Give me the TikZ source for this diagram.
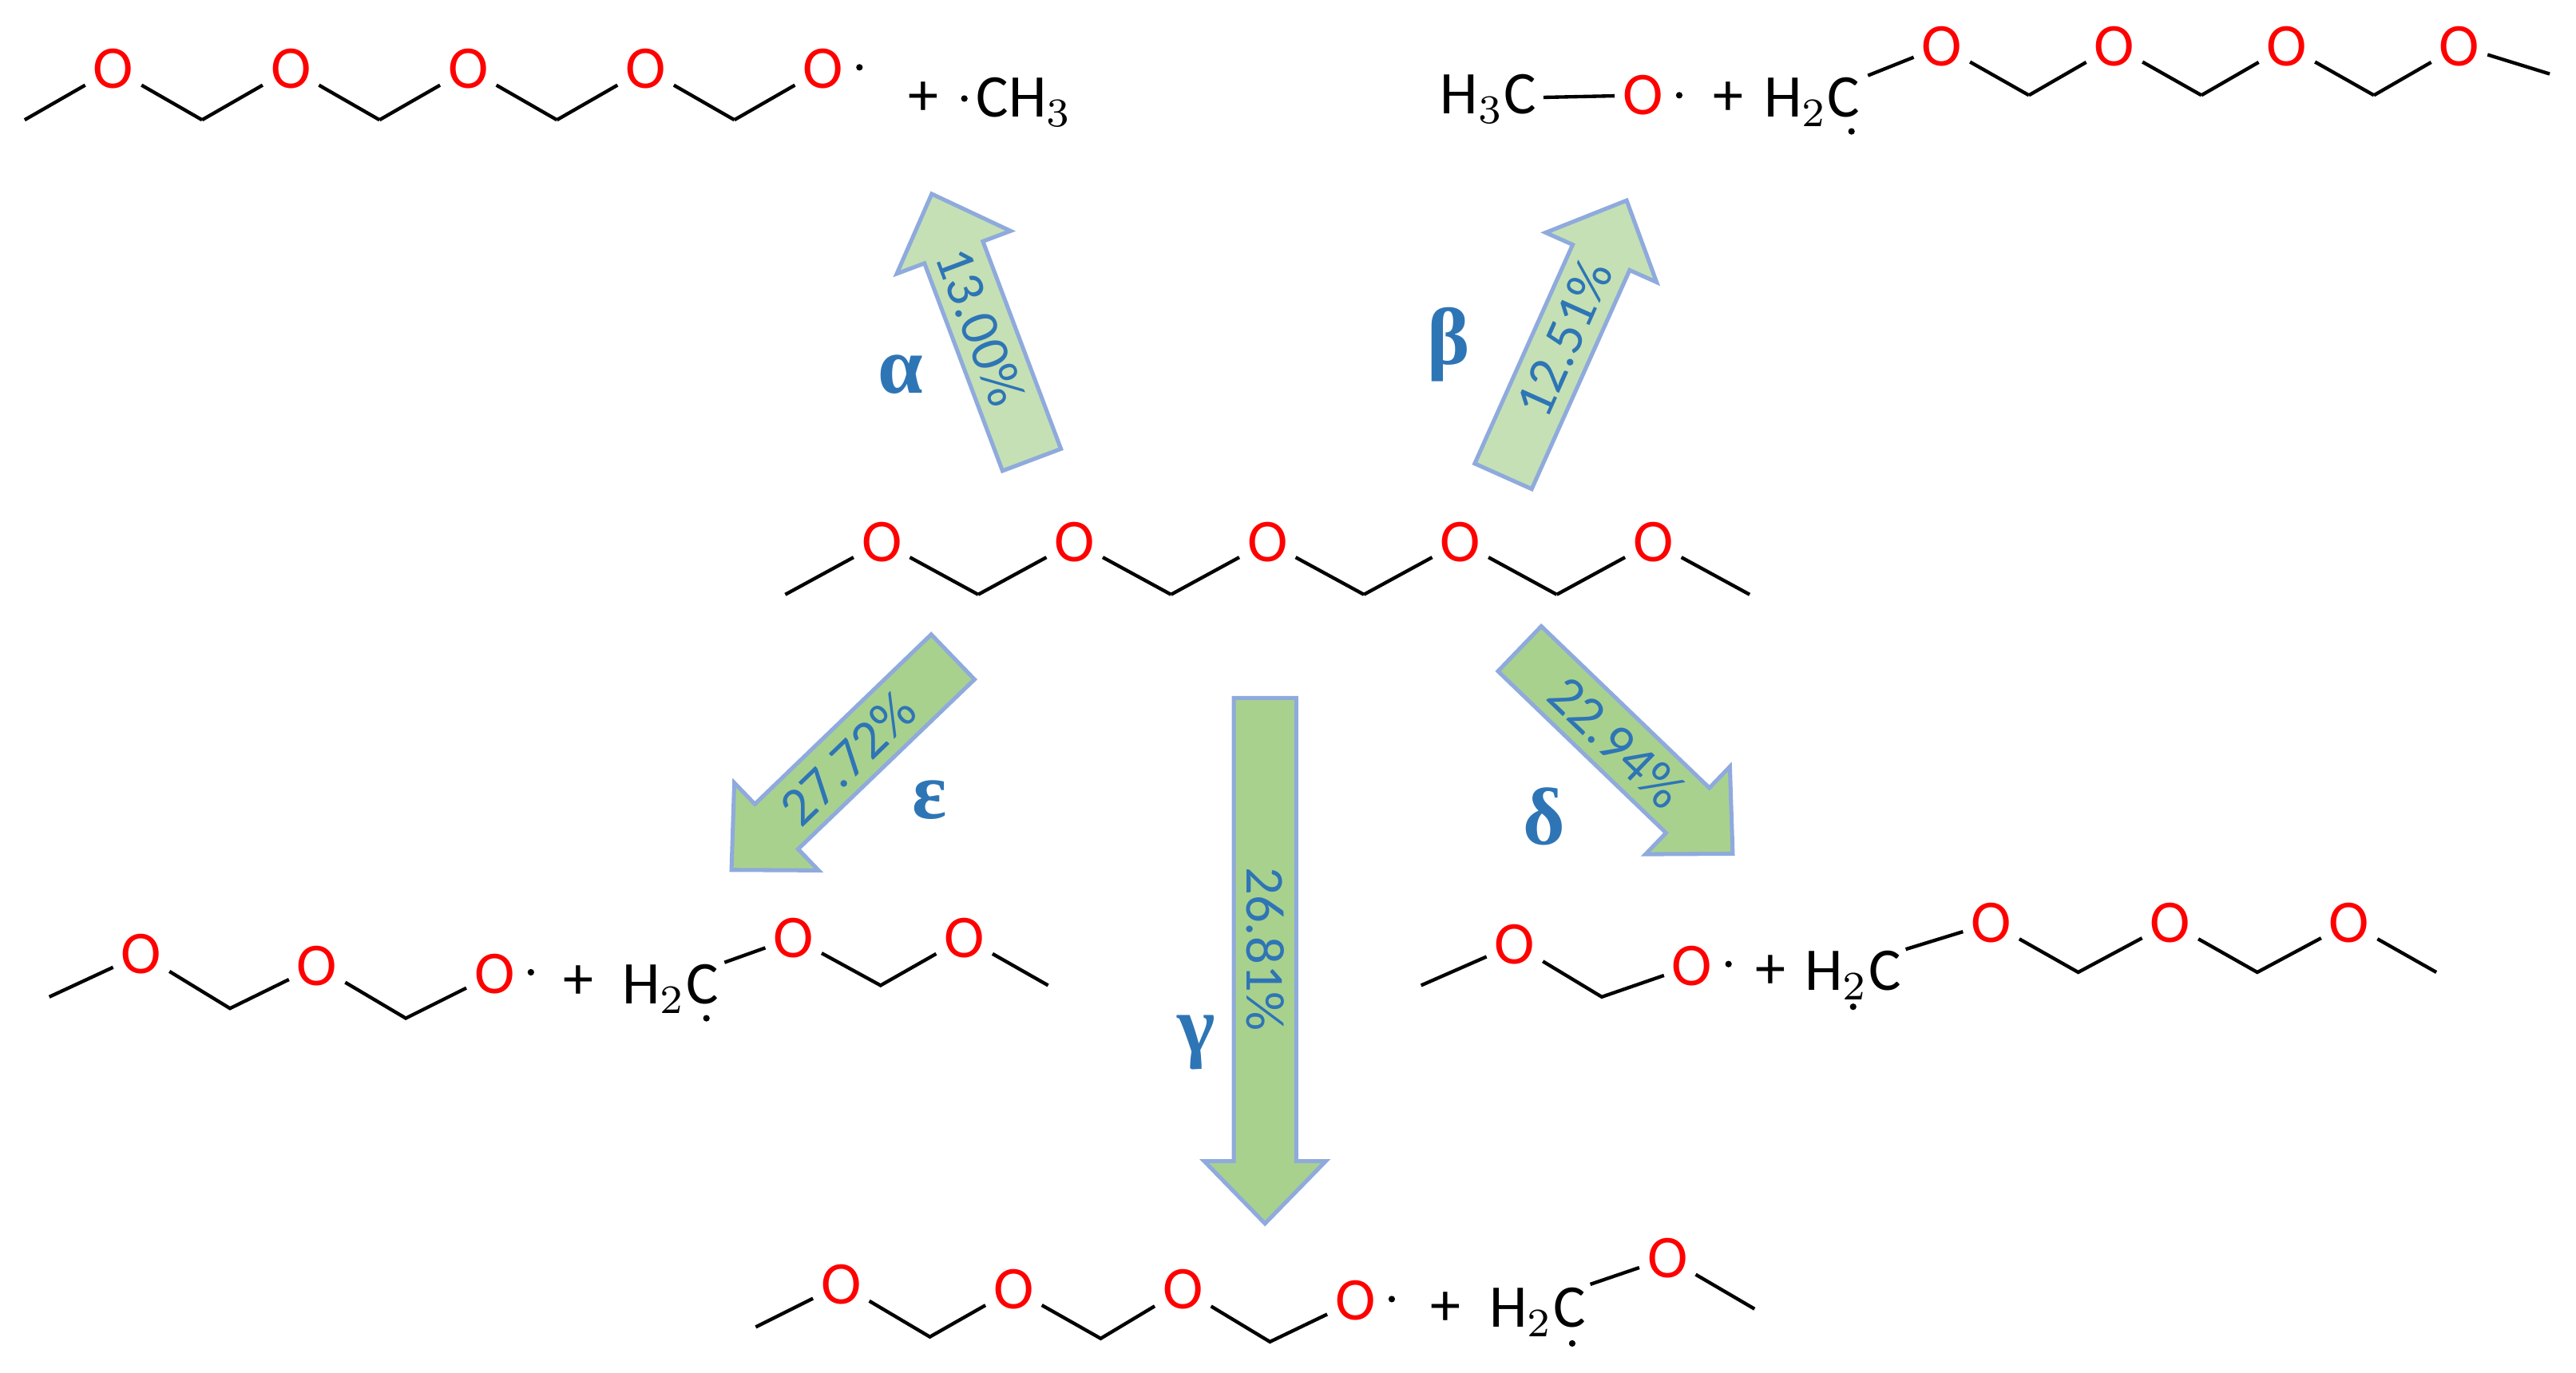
\documentclass[tikz,border=0pt]{standalone}
\usepackage{fontspec}
\setmainfont{Carlito}
\newfontfamily\grk{Liberation Serif}
\definecolor{ored}{HTML}{FF0000}
\definecolor{gl}{HTML}{C5E0B4}
\definecolor{gd}{HTML}{A9D18E}
\definecolor{ab}{HTML}{8FAADC}
\definecolor{lb}{HTML}{2E75B6}
\newcommand\fatarr[6]{% tail x, tail y, angle, length, colour, text
  \begin{scope}[shift={(#1,#2)},rotate=#3]
    \draw[draw=ab,line width=0.7pt,fill=#5] (0,-19)--(#4-38,-19)--(#4-38,-37)--(#4,0)--(#4-38,37)--(#4-38,19)--(0,19)--cycle;
  \end{scope}}
\begin{document}
\begin{tikzpicture}[x=0.01cm,y=-0.01cm,
  ox/.style={text=ored,inner sep=1.2pt,font=\fontsize{10.5}{12}\selectfont},
  tx/.style={inner sep=1pt,font=\fontsize{10.5}{12}\selectfont},
  bond/.style={line width=0.6pt},
  pct/.style={text=lb,font=\fontsize{9.5}{10}\selectfont},
  grl/.style={text=lb,font=\grk\bfseries\fontsize{14}{15}\selectfont}]
\useasboundingbox (0,0) rectangle (1568,836);

% ---- arrows
\fatarr{628}{280}{110.6}{173}{gl}{}
\node[pct,rotate=-69.4] (pA) at (597,199) {13.00\%};
\fatarr{915}{290}{65.9}{184}{gl}{}
\node[pct,rotate=65.9] (pB) at (952,206) {12.51\%};
\fatarr{580}{400}{223.9}{187}{gd}{}
\node[pct,rotate=43.9] (pE) at (516,462) {27.72\%};
\fatarr{770}{425}{270}{320}{gd}{}
\node[pct,rotate=-90] (pG) at (770,578) {26.81\%};
\fatarr{925}{395}{-43.9}{180}{gd}{}
\node[pct,rotate=-43.9] (pD) at (984,452) {22.94\%};

\node[grl] (lA) at (548,228) {α};
\node[grl] (lB) at (882,210) {β};
\node[grl] (lE) at (566,487) {ε};
\node[grl] (lG) at (728,635) {γ};
\node[grl] (lD) at (940,497) {δ};

% ---- centre molecule
\foreach \i in {0,...,5} \coordinate (mc\i) at ({478+117.4*\i},362);
\foreach \i in {1,...,5} \node[ox] (m\i) at ({478+117.4*\i-58.7},330) {O};
\foreach \i [evaluate=\i as \j using int(\i-1)] in {1,...,5} \draw[bond] (mc\j) -- (m\i) -- (mc\i);

% ---- top left (alpha)
\foreach \i in {0,...,4} \coordinate (ac\i) at ({15+108*\i},73);
\foreach \i in {1,...,4} \node[ox] (a\i) at ({15+108*\i-54},42) {O};
\node[ox] (a5) at (501,42) {O};
\fill (a5.east)++(5,-1) circle (2);
\foreach \i [evaluate=\i as \j using int(\i-1)] in {1,...,4} \draw[bond] (ac\j) -- (a\i) -- (ac\i);
\draw[bond] (ac4) -- (a5);
\node[tx] (ap) at (562,60) {+};
\node[tx,anchor=west] (ach) at (590,62) {CH$_3$};
\fill (587,60) circle (2);

% ---- top right (beta)
\node[tx] (bh) at (906,60) {H$_3$C};
\node[ox] (bo) at (1000,58) {O};
\fill (bo.east)++(5,0) circle (2);
\draw[bond] (bh) -- (bo);
\node[tx] (bp) at (1052,60) {+};
\node[tx] (bh2) at (1103,62) {H$_2$C};
\fill (1127,80) circle (2);
\coordinate (bc0) at (1137,46);
\foreach \i in {1,...,3} \coordinate (bc\i) at ({1130+105*\i},58);
\foreach \i in {1,...,4} \node[ox] (b\i) at ({1077+105*\i},28) {O};
\coordinate (bc4) at (1552,45);
\foreach \i [evaluate=\i as \j using int(\i-1)] in {1,...,4} \draw[bond] (bc\j) -- (b\i) -- (bc\i);

% ---- epsilon
\coordinate (ec0) at (30,607);
\node[ox] (e1) at (86,581) {O};
\coordinate (ec1) at (140,614);
\node[ox] (e2) at (193,588) {O};
\coordinate (ec2) at (247,620);
\node[ox] (e3) at (301,593) {O};
\fill (e3.east)++(5,-1) circle (2);
\draw[bond] (ec0) -- (e1) -- (ec1) -- (e2) -- (ec2) -- (e3);
\node[tx] (ep) at (352,598) {+};
\node[tx] (eh) at (408,602) {H$_2$C};
\fill (430,620) circle (2);
\coordinate (ed0) at (441,586);
\node[ox] (e4) at (483,571) {O};
\coordinate (ed1) at (536,600);
\node[ox] (e5) at (587,571) {O};
\coordinate (ed2) at (638,600);
\draw[bond] (ed0) -- (e4) -- (ed1) -- (e5) -- (ed2);

% ---- delta
\coordinate (dc0) at (865,600);
\node[ox] (d1) at (922,575) {O};
\coordinate (dc1) at (975,607);
\node[ox] (d2) at (1030,588) {O};
\fill (d2.east)++(5,-1) circle (2);
\draw[bond] (dc0) -- (d1) -- (dc1) -- (d2);
\node[tx] (dp) at (1078,592) {+};
\node[tx] (dh) at (1128,594) {H$_2$C};
\fill (1128,613) circle (2);
\coordinate (dd0) at (1160,578);
\foreach \i in {1,...,3} \node[ox] (dd\i o) at ({1212+109*(\i-1)},562) {O};
\coordinate (dd1) at (1265,592);
\coordinate (dd2) at (1374,592);
\coordinate (dd3) at (1483,592);
\draw[bond] (dd0) -- (dd1o) -- (dd1) -- (dd2o) -- (dd2) -- (dd3o) -- (dd3);

% ---- gamma
\coordinate (gc0) at (460,808);
\node[ox] (g1) at (512,782) {O};
\coordinate (gc1) at (566,814);
\node[ox] (g2) at (617,785) {O};
\coordinate (gc2) at (670,815);
\node[ox] (g3) at (720,785) {O};
\coordinate (gc3) at (773,817);
\node[ox] (g4) at (825,792) {O};
\fill (g4.east)++(5,-1) circle (2);
\draw[bond] (gc0) -- (g1) -- (gc1) -- (g2) -- (gc2) -- (g3) -- (gc3) -- (g4);
\node[tx] (gp) at (880,797) {+};
\node[tx] (gh) at (936,799) {H$_2$C};
\fill (957,818) circle (2);
\coordinate (gd0) at (968,782);
\node[ox] (g5) at (1015,766) {O};
\coordinate (gd1) at (1068,797);
\draw[bond] (gd0) -- (g5) -- (gd1);
\end{tikzpicture}
\end{document}
